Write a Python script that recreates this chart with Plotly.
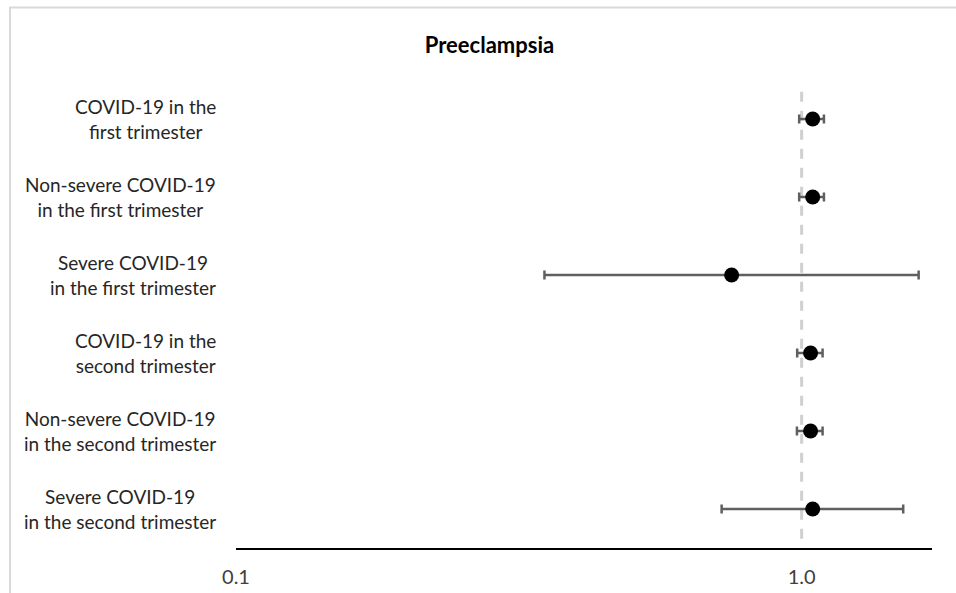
import math
import plotly.graph_objects as go

# Forest plot: odds ratios with 95% CI for preeclampsia
categories = [
    "COVID-19 in the<br>first trimester",
    "Non-severe COVID-19<br>in the first trimester",
    "Severe COVID-19<br>in the first trimester",
    "COVID-19 in the<br>second trimester",
    "Non-severe COVID-19<br>in the second trimester",
    "Severe COVID-19<br>in the second trimester",
]
odds_ratio = [1.046, 1.046, 0.752, 1.037, 1.037, 1.046]
ci_lower = [0.990, 0.990, 0.351, 0.982, 0.981, 0.722]
ci_upper = [1.095, 1.095, 1.610, 1.089, 1.089, 1.512]
tick_values = [0.1, 1.0]
tick_labels = ["0.1", "1.0"]

rows = list(range(1, len(categories) + 1))
err_plus = [u - o for u, o in zip(ci_upper, odds_ratio)]
err_minus = [o - l for o, l in zip(odds_ratio, ci_lower)]

FONT = "Lato"

fig = go.Figure()
fig.add_trace(go.Scatter(
    x=odds_ratio,
    y=rows,
    mode="markers",
    marker=dict(color="black", size=15),
    error_x=dict(
        type="data", symmetric=False,
        array=err_plus, arrayminus=err_minus,
        color="#5f5f5f", thickness=2.5, width=4.5,
    ),
    showlegend=False,
    hoverinfo="skip",
))

# reference line at OR = 1
fig.add_shape(type="line", xref="x", yref="y", x0=1, x1=1, y0=0.65, y1=6.4,
              line=dict(color="#d0d0d0", width=3, dash="10px,9px"), layer="below")

# outer chart border
fig.add_shape(type="rect", xref="paper", yref="paper",
              x0=-0.3247, x1=1.2, y0=-0.3, y1=1.155,
              line=dict(color="#d9d9d9", width=2), fillcolor="rgba(0,0,0,0)")

for r, label in zip(rows, categories):
    fig.add_annotation(x=-0.026, xref="paper", y=r, yref="y", text=label,
                       showarrow=False, xanchor="right", yanchor="middle",
                       align="center", font=dict(family=FONT, size=19, color="#262626"))

fig.update_layout(
    width=956, height=593,
    margin=dict(l=236, r=24, t=80, b=45),
    paper_bgcolor="white", plot_bgcolor="white",
    title=dict(text="<b>Preeclampsia</b>", x=0.512, xanchor="center",
               y=1 - 45 / 593, yanchor="middle",
               font=dict(family=FONT, size=22, color="black")),
    xaxis=dict(
        type="log", range=[-1, math.log10(1.70)],
        tickvals=tick_values, ticktext=tick_labels,
        showgrid=False, zeroline=False, ticks="",
        showline=True, linecolor="black", linewidth=1.5,
        tickfont=dict(family=FONT, size=20, color="#404040"),
        ticklabelstandoff=10, automargin=False,
    ),
    yaxis=dict(range=[6.5, 0.5], showticklabels=False, showgrid=False,
               zeroline=False, showline=False, ticks="", automargin=False),
)

fig.write_html("out.html")
